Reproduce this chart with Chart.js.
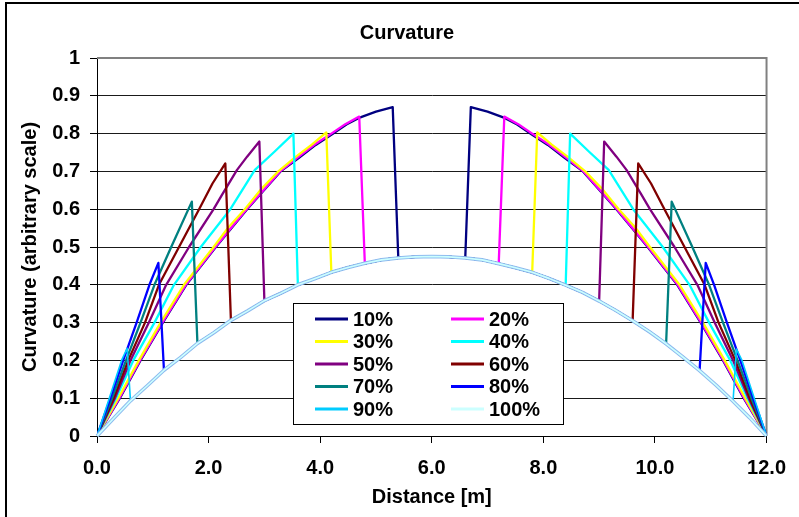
<!DOCTYPE html>
<html><head><meta charset="utf-8">
<script src="https://cdn.jsdelivr.net/npm/chart.js@4.4.0/dist/chart.umd.min.js"></script>
<style>html,body{margin:0;padding:0;background:#fff;}#wrap{width:799px;height:517px;position:relative;}</style>
</head><body><div id="wrap"><canvas id="c" width="799" height="517"></canvas></div>
<script>
// ---- data ----
const seriesLabels = ['10%','20%','30%','40%','50%','60%','70%','80%','90%','100%'];
const seriesColors = ['#000080','#FF00FF','#FFFF00','#00FFFF','#800080','#800000','#008080','#0000FF','#00CCFF','#CCFFFF'];
const xTickLabels = ['0.0','2.0','4.0','6.0','8.0','10.0','12.0'];
const yTickLabels = ['0','0.1','0.2','0.3','0.4','0.5','0.6','0.7','0.8','0.9','1'];

// 100% curve
const curve100X = [0,0.3,0.6,0.9,1.2,1.5,1.8,2.1,2.4,2.7,3.0,3.3,3.6,3.9,4.2,4.5,4.8,5.1,5.4,5.7,6.0,6.3,6.6,6.9,7.2,7.5,7.8,8.1,8.4,8.7,9.0,9.3,9.6,9.9,10.2,10.5,10.8,11.1,11.4,11.7,12.0];
const curve100Y = [0,0.047,0.093,0.133,0.174,0.208,0.245,0.274,0.306,0.331,0.358,0.378,0.400,0.416,0.433,0.446,0.457,0.466,0.471,0.474,0.475,0.474,0.471,0.466,0.456,0.445,0.433,0.417,0.399,0.380,0.357,0.332,0.305,0.276,0.244,0.209,0.173,0.134,0.092,0.048,0];

// where each partial series drops onto / climbs off the 100% curve
const dropLeft  = [5.4,4.8,4.2,3.6,3.0,2.4,1.8,1.2,0.6];
const dropRight = [6.6,7.2,7.8,8.4,9.0,9.6,10.2,10.8,11.4];

// rising parts (left) and falling parts (right)
const rise10 = [[0,0],[0.41,0.1],[0.78,0.2],[1.18,0.3],[1.60,0.4],[2.13,0.5],[2.69,0.6],[3.29,0.7],[3.62,0.736],[3.92,0.77],[4.22,0.799],[4.47,0.824],[4.72,0.843],[5.0,0.858],[5.30,0.870]];
const fall10 = [[6.70,0.870],[7.0,0.858],[7.28,0.843],[7.53,0.824],[7.78,0.799],[8.08,0.77],[8.38,0.736],[8.71,0.7],[9.31,0.6],[9.87,0.5],[10.40,0.4],[10.82,0.3],[11.22,0.2],[11.59,0.1],[12,0]];
const rise20 = [[0,0],[0.40,0.1],[0.77,0.2],[1.17,0.3],[1.59,0.4],[2.12,0.5],[2.68,0.6],[3.28,0.7],[3.6,0.737],[3.9,0.771],[4.2,0.80],[4.45,0.825],[4.70,0.845]];
const fall20 = [[7.30,0.845],[7.55,0.825],[7.80,0.80],[8.10,0.771],[8.40,0.737],[8.72,0.7],[9.32,0.6],[9.88,0.5],[10.41,0.4],[10.83,0.3],[11.23,0.2],[11.60,0.1],[12,0]];
const rise30 = [[0,0],[0.38,0.1],[0.75,0.2],[1.14,0.3],[1.56,0.4],[2.09,0.5],[2.35,0.551],[2.65,0.6],[2.93,0.651],[3.25,0.7],[3.55,0.737],[3.85,0.771],[4.11,0.803]];
const fall30 = [[7.89,0.803],[8.15,0.771],[8.45,0.737],[8.75,0.7],[9.07,0.651],[9.35,0.6],[9.65,0.551],[9.91,0.5],[10.44,0.4],[10.86,0.3],[11.25,0.2],[11.62,0.1],[12,0]];
const rise40 = [[0,0],[0.34,0.1],[0.65,0.2],[1.03,0.3],[1.38,0.4],[1.86,0.5],[2.39,0.6],[2.83,0.704],[3.18,0.752],[3.52,0.80]];
const fall40 = [[8.48,0.80],[8.82,0.752],[9.17,0.704],[9.61,0.6],[10.14,0.5],[10.62,0.4],[10.97,0.3],[11.35,0.2],[11.66,0.1],[12,0]];
const rise50 = [[0,0],[0.32,0.1],[0.60,0.2],[0.93,0.3],[1.24,0.4],[1.65,0.5],[2.09,0.6],[2.24,0.638],[2.51,0.704],[2.69,0.739],[2.91,0.779]];
const fall50 = [[9.09,0.779],[9.31,0.739],[9.49,0.704],[9.76,0.638],[9.91,0.6],[10.35,0.5],[10.76,0.4],[11.07,0.3],[11.40,0.2],[11.68,0.1],[12,0]];
const rise60 = [[0,0],[0.30,0.1],[0.56,0.2],[0.86,0.3],[1.11,0.4],[1.47,0.5],[1.83,0.6],[2.07,0.668],[2.30,0.721]];
const fall60 = [[9.70,0.721],[9.93,0.668],[10.17,0.6],[10.53,0.5],[10.89,0.4],[11.14,0.3],[11.44,0.2],[11.70,0.1],[12,0]];
const rise70 = [[0,0],[0.27,0.1],[0.52,0.2],[0.78,0.3],[1.03,0.4],[1.33,0.5],[1.70,0.62]];
const fall70 = [[10.30,0.62],[10.67,0.5],[10.97,0.4],[11.22,0.3],[11.48,0.2],[11.73,0.1],[12,0]];
const rise80 = [[0,0],[0.24,0.1],[0.47,0.2],[0.71,0.3],[0.94,0.4],[1.10,0.458]];
const fall80 = [[10.91,0.458],[11.06,0.4],[11.29,0.3],[11.53,0.2],[11.76,0.1],[12,0]];
const rise90 = [[0,0],[0.22,0.1],[0.44,0.2],[0.54,0.232]];
const fall90 = [[11.46,0.230],[11.56,0.2],[11.78,0.1],[12,0]];

// ---- build datasets ----
const rises = [rise10,rise20,rise30,rise40,rise50,rise60,rise70,rise80,rise90];
const falls = [fall10,fall20,fall30,fall40,fall50,fall60,fall70,fall80,fall90];
const curvePts = curve100X.map((x,i)=>({x:x,y:curve100Y[i]}));
const datasets = rises.map((r,i)=>{
  const mid = curvePts.filter(p=>p.x>=dropLeft[i]-1e-6 && p.x<=dropRight[i]+1e-6);
  const pts = r.map(p=>({x:p[0],y:p[1]})).concat(mid, falls[i].map(p=>({x:p[0],y:p[1]})));
  return {label:seriesLabels[i], data:pts, borderColor:seriesColors[i], backgroundColor:seriesColors[i],
    borderWidth: i===8 ? 1.6 : 2.3, showLine:true, pointRadius:0, order: 20-i};
});
datasets.push({label:seriesLabels[9], data:curvePts, borderColor:seriesColors[9], backgroundColor:seriesColors[9],
  borderWidth:1.6, showLine:true, pointRadius:0, order:1});

const FONT = 'Liberation Sans, Arial, Helvetica, sans-serif';
const font20 = {family:FONT, size:20, weight:'bold'};

const framePlugin = {
  id:'frame',
  beforeDraw(chart){
    const c = chart.ctx; c.save(); c.fillStyle='#fff'; c.fillRect(0,0,chart.width,chart.height); c.restore();
  },
  beforeDatasetsDraw(chart){
    const a = chart.chartArea, c = chart.ctx;
    c.save(); c.strokeStyle='#808080'; c.lineWidth=2;
    c.beginPath(); c.moveTo(a.left,a.top); c.lineTo(a.right,a.top); c.lineTo(a.right,a.bottom); c.stroke();
    c.restore();
  },
  beforeDatasetDraw(chart,args){
    if(args.index!==9) return;
    const meta = chart.getDatasetMeta(9), c = chart.ctx;
    c.save(); c.strokeStyle='#8fbcef'; c.lineWidth=3.6; c.lineJoin='round';
    c.beginPath();
    meta.data.forEach((p,i)=>{ if(i===0) c.moveTo(p.x,p.y); else c.lineTo(p.x,p.y); });
    c.stroke(); c.restore();
  },
  afterDraw(chart){
    const c = chart.ctx;
    c.save();
    // title
    c.fillStyle='#000'; c.font='bold 20px '+FONT; c.textAlign='center'; c.textBaseline='middle';
    c.fillText('Curvature', 407, 33);
    // legend
    const bx=293, by=303, bw=270, bh=121;
    c.fillStyle='#fff'; c.fillRect(bx,by,bw,bh);
    c.strokeStyle='#000'; c.lineWidth=1; c.strokeRect(bx+0.5,by+0.5,bw,bh);
    const ds = chart.data.datasets;
    ds.forEach((d,i)=>{
      const col = i%2, row = Math.floor(i/2);
      const lx = col===0 ? 315 : 451;
      const y = 319 + row*22.5;
      c.strokeStyle=d.borderColor; c.lineWidth=3;
      c.beginPath(); c.moveTo(lx,y); c.lineTo(lx+33,y); c.stroke();
      c.fillStyle='#000'; c.textAlign='left'; c.textBaseline='middle';
      c.fillText(d.label, lx+38, y+1);
    });
    // outer chart border
    c.strokeStyle='#000'; c.lineWidth=2;
    c.strokeRect(6,3,900,700);
    c.restore();
  }
};

new Chart(document.getElementById('c').getContext('2d'), {
  type:'scatter',
  data:{datasets:datasets},
  options:{
    responsive:false, animation:false, devicePixelRatio:1,
    layout:{padding:{left:0,right:26,top:58,bottom:0}},
    plugins:{legend:{display:false}, tooltip:{enabled:false}, title:{display:false}},
    elements:{point:{radius:0}, line:{tension:0, borderJoinStyle:'round'}},
    scales:{
      x:{type:'linear', min:0, max:12,
        afterFit:(s)=>{s.height=81;},
        ticks:{stepSize:2, autoSkip:false, maxRotation:0, padding:13, color:'#000', font:font20,
          callback:(v,i)=>xTickLabels[i]},
        grid:{drawOnChartArea:false, drawTicks:true, tickLength:7, tickColor:'#000', color:'#000'},
        border:{display:true, color:'#000', width:1},
        title:{display:true, text:'Distance [m]', color:'#000', font:font20, padding:{top:0,bottom:8}}
      },
      y:{type:'linear', min:0, max:1,
        afterFit:(s)=>{s.width=97;},
        ticks:{stepSize:0.1, padding:10, color:'#000', font:font20,
          callback:(v,i)=>yTickLabels[i]},
        grid:{color:(ctx)=> (ctx.tick && ctx.tick.value>0.999) ? '#808080' : '#1a1a1a', lineWidth:1, drawTicks:true, tickLength:7, tickColor:'#000'},
        border:{display:true, color:'#000', width:1},
        title:{display:true, text:'Curvature (arbitrary scale)', color:'#000', font:font20, padding:{top:18,bottom:0}}
      }
    }
  },
  plugins:[framePlugin]
});
</script></body></html>
